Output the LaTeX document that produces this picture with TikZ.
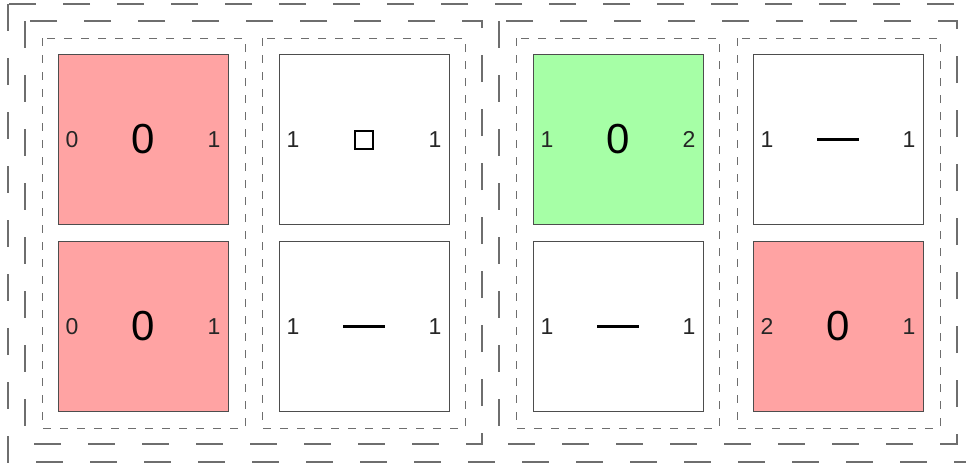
\documentclass[tikz,border=0pt]{standalone}
\usepackage{fontspec}
\setmainfont{Liberation Sans}
\definecolor{cellred}{HTML}{FFA3A3}
\definecolor{cellgreen}{HTML}{A6FFA6}
\definecolor{edgegray}{HTML}{4D4D4D}
\definecolor{dashgray}{HTML}{6E6E6E}
\begin{document}
\begin{tikzpicture}[x=1pt,y=-1pt,
  cell/.style={draw=edgegray, line width=0.9pt, minimum width=170pt, minimum height=170pt, inner sep=0pt, anchor=north west, fill=white},
  bigdash/.style={draw=dashgray, line width=1.2pt, dash pattern=on 27pt off 27pt},
  smalldash/.style={draw=dashgray, line width=1pt, dash pattern=on 8pt off 9pt},
  side/.style={font=\fontsize{23}{23}\selectfont, text=black!85, inner sep=0pt},
  big/.style={font=\fontsize{42}{42}\selectfont, inner sep=0pt},
  boxsym/.style={draw=black, line width=2pt, minimum size=18pt, inner sep=0pt},
  barsym/.style={line width=2.6pt}]
\useasboundingbox (0,0) rectangle (966,463);
% dashed frames
\draw[bigdash] (8,4) rectangle (995,462);
\draw[bigdash] (25,21) rectangle (482,444);
\draw[bigdash] (499,21) rectangle (957,444);
\draw[smalldash] (42,38) rectangle (245,428);
\draw[smalldash] (262,38) rectangle (465,428);
\draw[smalldash] (516,38) rectangle (719,428);
\draw[smalldash] (737,38) rectangle (940,428);
% cells
\node[cell, fill=cellred] (c11) at (58,54) {};
\node[cell, fill=cellred] (c21) at (58,241) {};
\node[cell] (c12) at (279,54) {};
\node[cell] (c22) at (279,241) {};
\node[cell, fill=cellgreen] (c13) at (533,54) {};
\node[cell] (c23) at (533,241) {};
\node[cell] (c14) at (753,54) {};
\node[cell, fill=cellred] (c24) at (753,241) {};
% column 1
\node[side] (l11) at ([xshift=14pt]c11.west) {0};
\node[side] (r11) at ([xshift=-15pt]c11.east) {1};
\node[big] (m11) at (c11.center) {0};
\node[side] (l21) at ([xshift=14pt]c21.west) {0};
\node[side] (r21) at ([xshift=-15pt]c21.east) {1};
\node[big] (m21) at (c21.center) {0};
% column 2
\node[side] (l12) at ([xshift=14pt]c12.west) {1};
\node[side] (r12) at ([xshift=-15pt]c12.east) {1};
\node[boxsym] (m12) at ([yshift=-1pt]c12.center) {};
\node[side] (l22) at ([xshift=14pt]c22.west) {1};
\node[side] (r22) at ([xshift=-15pt]c22.east) {1};
\draw[barsym] ([xshift=-21pt]c22.center) -- ([xshift=21pt]c22.center);
% column 3
\node[side] (l13) at ([xshift=14pt]c13.west) {1};
\node[side] (r13) at ([xshift=-15pt]c13.east) {2};
\node[big] (m13) at (c13.center) {0};
\node[side] (l23) at ([xshift=14pt]c23.west) {1};
\node[side] (r23) at ([xshift=-15pt]c23.east) {1};
\draw[barsym] ([xshift=-21pt]c23.center) -- ([xshift=21pt]c23.center);
% column 4
\node[side] (l14) at ([xshift=14pt]c14.west) {1};
\node[side] (r14) at ([xshift=-15pt]c14.east) {1};
\draw[barsym] ([xshift=-21pt]c14.center) -- ([xshift=21pt]c14.center);
\node[side] (l24) at ([xshift=14pt]c24.west) {2};
\node[side] (r24) at ([xshift=-15pt]c24.east) {1};
\node[big] (m24) at (c24.center) {0};
\end{tikzpicture}
\end{document}
